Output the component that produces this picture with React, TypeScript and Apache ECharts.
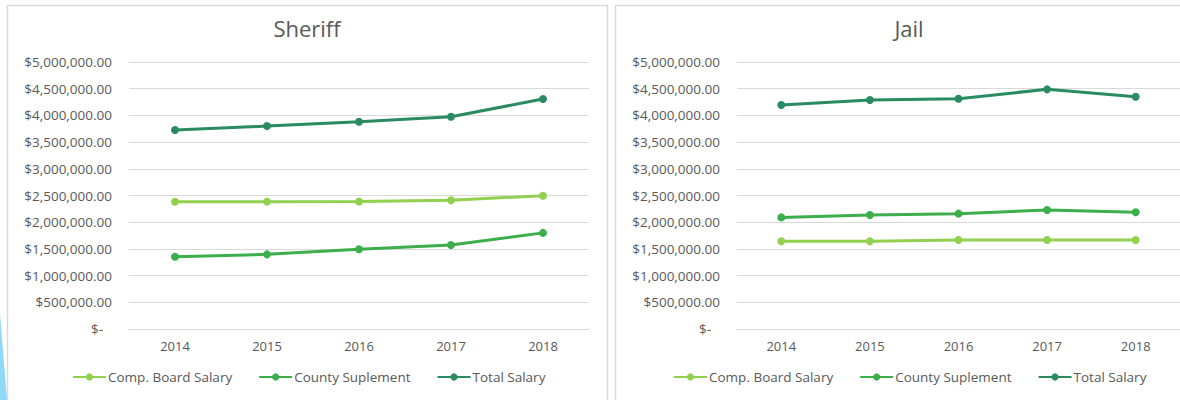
import React, { useEffect, useRef } from "react";
import * as echarts from "echarts";

const years = ["2014", "2015", "2016", "2017", "2018"];
const seriesNames = ["Comp. Board Salary", "County Suplement", "Total Salary"];
const seriesColors = ["#92d050", "#3cae4c", "#2a8b62"];

const sheriffComp = [2384000, 2385000, 2386000, 2410000, 2496000];
const sheriffCounty = [1354000, 1398000, 1492000, 1573000, 1800000];
const sheriffTotal = [3727000, 3800000, 3880000, 3975000, 4307000];

const jailComp = [1642000, 1642000, 1667000, 1667000, 1667000];
const jailCounty = [2090000, 2135000, 2160000, 2228000, 2185000];
const jailTotal = [4195000, 4288000, 4313000, 4488000, 4350000];

const panelTitles = ["Sheriff", "Jail"];
const FONT = "'Open Sans', Lato, sans-serif";
const TXT = "#595959";

function fmt(v: number): string {
  if (v === 0) return "{z|$-}";
  return "$" + v.toLocaleString("en-US", { minimumFractionDigits: 2, maximumFractionDigits: 2 });
}

export default function App() {
  const ref = useRef<HTMLDivElement>(null);
  useEffect(() => {
    if (!ref.current) return;
    const chart = echarts.init(ref.current, undefined, { renderer: "svg" });
    const grids = [
      { left: 129, top: 62, width: 460, height: 267 },
      { left: 737, top: 62, width: 447, height: 267 },
    ];
    const titleCenters = [307, 909];
    const legendLefts = [72, 673];
    const data = [
      [sheriffComp, sheriffCounty, sheriffTotal],
      [jailComp, jailCounty, jailTotal],
    ];
    const series: any[] = [];
    data.forEach((panel, pi) => {
      panel.forEach((vals, si) => {
        series.push({
          type: "line",
          name: seriesNames[si],
          xAxisIndex: pi,
          yAxisIndex: pi,
          data: vals,
          symbol: "circle",
          symbolSize: 8,
          lineStyle: { width: 3, color: seriesColors[si] },
          itemStyle: { color: seriesColors[si] },
        });
      });
    });
    chart.setOption({
      animation: false,
      backgroundColor: "#ffffff",
      title: panelTitles.map((t, i) => ({
        text: t,
        left: titleCenters[i],
        textAlign: "center",
        top: 17,
        padding: 0,
        textStyle: { fontFamily: FONT, fontSize: 22, fontWeight: "normal", color: TXT },
      })),
      legend: legendLefts.map((l) => ({
        data: seriesNames,
        left: l,
        top: 370,
        padding: 0,
        orient: "horizontal",
        itemWidth: 33,
        itemHeight: 9,
        itemGap: 26,
        textStyle: { fontFamily: FONT, fontSize: 13.5, color: TXT, padding: [0, 0, 0, -3] },
      })),
      grid: grids,
      xAxis: grids.map((_, i) => ({
        type: "category",
        gridIndex: i,
        data: years,
        boundaryGap: true,
        axisLine: { lineStyle: { color: "#d9d9d9", width: 1 } },
        axisTick: { show: false },
        axisLabel: { fontFamily: FONT, fontSize: 13, color: TXT, margin: 10 },
      })),
      yAxis: grids.map((_, i) => ({
        type: "value",
        gridIndex: i,
        min: 0,
        max: 5000000,
        interval: 500000,
        axisLine: { show: false },
        axisTick: { show: false },
        splitLine: { lineStyle: { color: "#d9d9d9", width: 1 } },
        axisLabel: {
          fontFamily: FONT,
          fontSize: 13.5,
          color: TXT,
          margin: 17,
          formatter: fmt,
          rich: { z: { fontFamily: FONT, fontSize: 13.5, color: TXT, padding: [0, 9, 0, 0] } },
        },
      })),
      graphic: [
        {
          type: "rect",
          shape: { x: 7.5, y: 5.5, width: 600, height: 410 },
          style: { fill: "none", stroke: "#d9d9d9", lineWidth: 1.5 },
          silent: true,
        },
        {
          type: "rect",
          shape: { x: 615.5, y: 5.5, width: 600, height: 410 },
          style: { fill: "none", stroke: "#d9d9d9", lineWidth: 1.5 },
          silent: true,
        },
        {
          type: "polygon",
          shape: { points: [[0, 314], [7, 400], [0, 400]] },
          style: { fill: "#8fd8f6" },
          silent: true,
        },
      ],
      series,
    });
    return () => chart.dispose();
  }, []);
  return (
    <div
      ref={ref}
      style={{ position: "absolute", left: 0, top: 0, width: 1180, height: 400 }}
    />
  );
}
